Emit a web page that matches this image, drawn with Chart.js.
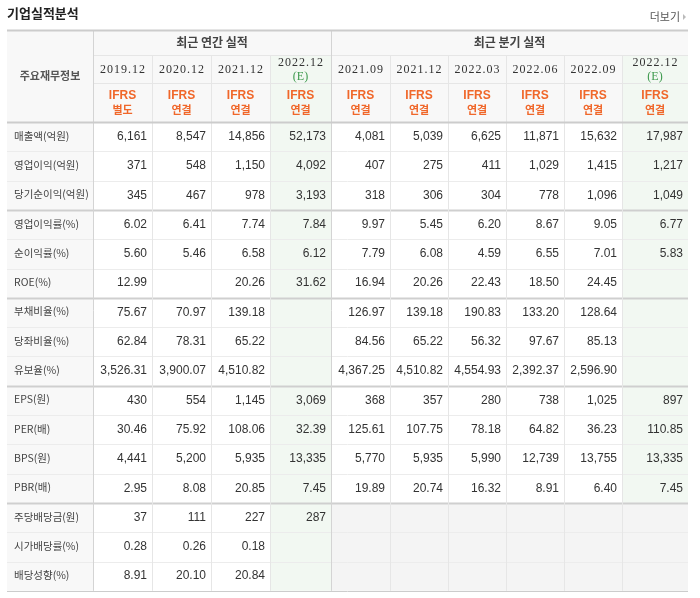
<!DOCTYPE html>
<html><head><meta charset="utf-8">
<script src="https://cdn.jsdelivr.net/npm/chart.js@4"></script>
<style>body{margin:0;background:#fff}canvas{display:block}</style>
</head><body><canvas id="c" width="700" height="598"></canvas>
<script>
const title = '기업실적분석';
const moreLabel = '더보기';
const groupAnnual = '최근 연간 실적';
const groupQuarter = '최근 분기 실적';
const headerLabel = '주요재무정보';
const annualPeriods = ['2019.12','2020.12','2021.12','2022.12'];
const quarterPeriods = ['2021.09','2021.12','2022.03','2022.06','2022.09','2022.12'];
const annualBasis = ['별도','연결','연결','연결'];
const quarterBasis = ['연결','연결','연결','연결','연결','연결'];
const rowLabels = ['매출액(억원)','영업이익(억원)','당기순이익(억원)','영업이익률(%)','순이익률(%)','ROE(%)','부채비율(%)','당좌비율(%)','유보율(%)','EPS(원)','PER(배)','BPS(원)','PBR(배)','주당배당금(원)','시가배당률(%)','배당성향(%)'];
const rowDecimals = [0,0,0,2,2,2,2,2,2,0,2,0,2,0,2,2];
const annualValues = [
 [6161,8547,14856,52173],[371,548,1150,4092],[345,467,978,3193],
 [6.02,6.41,7.74,7.84],[5.60,5.46,6.58,6.12],[12.99,null,20.26,31.62],
 [75.67,70.97,139.18,null],[62.84,78.31,65.22,null],[3526.31,3900.07,4510.82,null],
 [430,554,1145,3069],[30.46,75.92,108.06,32.39],[4441,5200,5935,13335],[2.95,8.08,20.85,7.45],
 [37,111,227,287],[0.28,0.26,0.18,null],[8.91,20.10,20.84,null]];
const quarterValues = [
 [4081,5039,6625,11871,15632,17987],[407,275,411,1029,1415,1217],[318,306,304,778,1096,1049],
 [9.97,5.45,6.20,8.67,9.05,6.77],[7.79,6.08,4.59,6.55,7.01,5.83],[16.94,20.26,22.43,18.50,24.45,null],
 [126.97,139.18,190.83,133.20,128.64,null],[84.56,65.22,56.32,97.67,85.13,null],[4367.25,4510.82,4554.93,2392.37,2596.90,null],
 [368,357,280,738,1025,897],[125.61,107.75,78.18,64.82,36.23,110.85],[5770,5935,5990,12739,13755,13335],[19.89,20.74,16.32,8.91,6.40,7.45],
 [null,null,null,null,null,null],[null,null,null,null,null,null],[null,null,null,null,null,null]];
const groupBreaks = [3,6,9,13];

const colEdges = [7,93,152,211,270,331,390,448,506,564,622,688];
const yTop = 30, yGroup = 55, yYear = 83, yHead = 122, rowH = 29.3;

function fmt(v,d){ if(v==null) return ''; return v.toLocaleString('en-US',{minimumFractionDigits:d,maximumFractionDigits:d}); }

const tablePlugin = {
 id:'table',
 afterDraw(chart){
  const c = chart.ctx, X = chart.scales.x, Y = chart.scales.y;
  const px = v=>X.getPixelForValue(v), py = v=>Y.getPixelForValue(v);
  const nRows = rowLabels.length;
  const yBot = yHead + nRows*rowH;
  const rowY = i=> yHead + i*rowH;
  c.save();
  c.fillStyle='#f8f8f8';
  c.fillRect(px(colEdges[0]),py(yTop),px(colEdges[11])-px(colEdges[0]),py(yHead)-py(yTop));
  c.fillRect(px(colEdges[0]),py(yHead),px(colEdges[1])-px(colEdges[0]),py(yBot)-py(yHead));
  c.fillStyle='#f2f8f2';
  [4,10].forEach(k=>c.fillRect(px(colEdges[k]),py(yGroup),px(colEdges[k+1])-px(colEdges[k]),py(yBot)-py(yGroup)));
  c.fillStyle='#f4f4f4';
  c.fillRect(px(colEdges[5]),py(rowY(13)),px(colEdges[11])-px(colEdges[5]),py(yBot)-py(rowY(13)));
  const hl=(y,x0,x1,col,w)=>{c.strokeStyle=col;c.lineWidth=w;c.beginPath();c.moveTo(px(x0),Math.round(py(y))+0.5);c.lineTo(px(x1),Math.round(py(y))+0.5);c.stroke();};
  const vl=(x,y0,y1,col,w)=>{c.strokeStyle=col;c.lineWidth=w;c.beginPath();c.moveTo(Math.round(px(x))+0.5,py(y0));c.lineTo(Math.round(px(x))+0.5,py(y1));c.stroke();};
  hl(yGroup,colEdges[1],colEdges[11],'#e6e6e6',1);
  hl(yYear,colEdges[1],colEdges[11],'#e6e6e6',1);
  for(let i=1;i<nRows;i++) hl(rowY(i),colEdges[0],colEdges[11],groupBreaks.includes(i)?'#cfcfcf':'#ececec',groupBreaks.includes(i)?2:1);
  for(let k=2;k<11;k++){ if(k===5) continue; vl(colEdges[k],yGroup,yBot,'#e6e6e6',1); }
  vl(colEdges[1],yTop,yBot,'#d4d4d4',1);
  vl(colEdges[5],yTop,yBot,'#d4d4d4',1);
  hl(yTop,colEdges[0],colEdges[11],'#cccccc',2);
  hl(yHead,colEdges[0],colEdges[11],'#cccccc',2);
  hl(yBot,colEdges[0],colEdges[11],'#cccccc',1);
  c.textBaseline='middle';
  c.fillStyle='#222'; c.font='bold 13px "Noto Sans CJK KR"'; c.textAlign='left';
  c.fillText(title,px(7),py(13));
  c.fillStyle='#555'; c.font='11px "Noto Sans CJK KR"'; c.textAlign='right';
  c.fillText(moreLabel,px(680),py(17));
  c.fillStyle='#bbb'; c.beginPath(); c.moveTo(px(683),py(14)); c.lineTo(px(686),py(17)); c.lineTo(px(683),py(20)); c.fill();
  c.textAlign='center'; c.fillStyle='#444'; c.font='bold 12px "Noto Sans CJK KR"';
  c.fillText(groupAnnual,(px(colEdges[1])+px(colEdges[5]))/2,py(42));
  c.fillText(groupQuarter,(px(colEdges[5])+px(colEdges[11]))/2,py(42));
  c.font='bold 11px "Noto Sans CJK KR"'; c.fillStyle='#555';
  c.fillText(headerLabel,(px(colEdges[0])+px(colEdges[1]))/2,py(76));
  const periods = annualPeriods.concat(quarterPeriods);
  const basis = annualBasis.concat(quarterBasis);
  periods.forEach((p,k)=>{
   const cx=(px(colEdges[k+1])+px(colEdges[k+2]))/2;
   const est = (k===3||k===9);
   c.font='12px "Liberation Serif"'; c.fillStyle='#333';
   c.letterSpacing='1px';
   c.fillText(p,cx+0.5,py(est?63:70));
   c.letterSpacing='0px';
   if(est){ c.fillStyle='#3e9a4e'; c.fillText('(E)',cx,py(77)); }
   c.fillStyle='#f0672a'; c.font='bold 12px "Liberation Sans"';
   c.fillText('IFRS',cx,py(96));
   c.font='bold 11px "Noto Sans CJK KR"';
   c.fillText(basis[k],cx,py(110));
  });
  for(let i=0;i<nRows;i++){
   const cy=py(rowY(i)+rowH/2);
   c.textAlign='left'; c.fillStyle='#444'; c.font='10.5px "Noto Sans CJK KR"';
   c.fillText(rowLabels[i],px(colEdges[0]+7),cy-1);
   c.textAlign='right'; c.fillStyle='#333'; c.font='12px "Liberation Sans"';
   const vals = annualValues[i].concat(quarterValues[i]);
   vals.forEach((v,k)=>c.fillText(fmt(v,rowDecimals[i]),px(colEdges[k+2])-5,cy));
  }
  c.restore();
 }
};

new Chart(document.getElementById('c'),{
 type:'scatter',
 data:{datasets:[{data:[]}]},
 options:{responsive:false,animation:false,devicePixelRatio:1,
  layout:{padding:0},
  plugins:{legend:{display:false},tooltip:{enabled:false}},
  scales:{
   x:{type:'linear',min:0,max:700,display:false},
   y:{type:'linear',min:0,max:598,reverse:true,display:false}
  }},
 plugins:[tablePlugin]
});
</script></body></html>
